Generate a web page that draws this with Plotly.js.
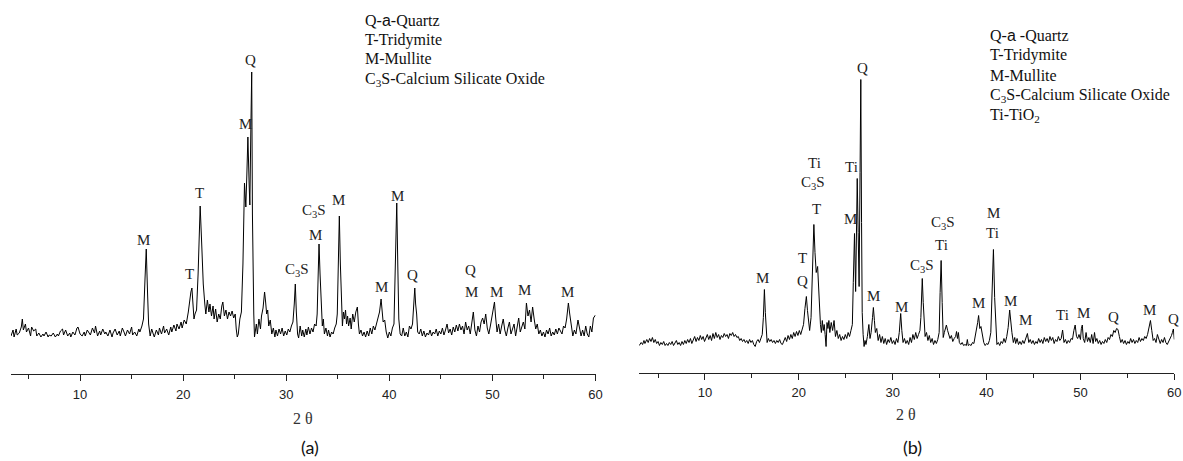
<!DOCTYPE html>
<html>
<head>
<meta charset="utf-8">
<script src="https://cdn.plot.ly/plotly-3.0.1.min.js"></script>
<style>
html,body{margin:0;padding:0;background:#fff;}
#chart{width:1183px;height:461px;}
</style>
</head>
<body>
<div id="chart"></div>
<script>
// ---------- Panel (a) pattern: 2theta and intensity ----------
var twoThetaA = [3.3,3.5,3.6,3.8,3.9,4.1,4.3,4.4,4.5,4.7,4.8,5.0,5.2,5.3,5.5,5.7,5.8,6.0,6.2,6.4,6.5,6.7,6.9,7.0,7.2,7.4,7.6,7.8,7.9,8.1,8.3,8.4,8.6,8.8,9.0,9.1,9.3,9.5,9.7,9.8,10.0,10.2,10.4,10.5,10.7,10.9,11.0,11.2,11.4,11.5,11.7,11.9,12.0,12.2,12.4,12.5,12.7,12.9,13.1,13.2,13.4,13.6,13.8,13.9,14.1,14.3,14.4,14.6,14.8,15.0,15.1,15.3,15.5,15.7,15.8,16.0,16.15,16.3,16.42,16.55,16.65,16.8,16.95,17.1,17.2,17.4,17.6,17.7,17.9,18.1,18.2,18.4,18.6,18.8,18.9,19.1,19.3,19.4,19.6,19.8,19.9,20.1,20.3,20.5,20.65,20.75,20.85,20.95,21.05,21.15,21.3,21.45,21.65,21.8,21.95,22.1,22.2,22.35,22.5,22.6,22.75,22.9,23.0,23.15,23.3,23.45,23.6,23.75,23.85,24.0,24.15,24.3,24.45,24.6,24.75,24.9,25.05,25.15,25.25,25.35,25.5,25.65,25.8,25.95,26.08,26.18,26.28,26.4,26.47,26.56,26.65,26.72,26.78,26.85,26.92,27.0,27.1,27.2,27.35,27.5,27.6,27.75,27.9,28.0,28.1,28.2,28.3,28.45,28.6,28.75,28.9,29.0,29.15,29.3,29.45,29.6,29.75,29.9,30.05,30.2,30.35,30.5,30.65,30.78,30.88,30.98,31.1,31.2,31.35,31.5,31.6,31.75,31.9,32.0,32.15,32.3,32.45,32.6,32.75,32.9,33.0,33.1,33.18,33.28,33.38,33.5,33.6,33.7,33.85,34.0,34.1,34.25,34.4,34.55,34.7,34.85,34.95,35.05,35.15,35.25,35.35,35.45,35.55,35.65,35.75,35.85,35.95,36.05,36.2,36.3,36.45,36.6,36.75,36.9,37.0,37.1,37.25,37.4,37.55,37.7,37.85,38.0,38.15,38.3,38.45,38.6,38.75,38.9,39.05,39.2,39.3,39.4,39.55,39.7,39.85,40.0,40.15,40.3,40.45,40.6,40.72,40.82,40.92,41.05,41.2,41.35,41.5,41.65,41.8,41.95,42.1,42.25,42.4,42.47,42.55,42.65,42.75,42.9,43.05,43.2,43.35,43.5,43.65,43.8,43.95,44.1,44.25,44.4,44.55,44.7,44.85,45.0,45.15,45.3,45.45,45.6,45.75,45.9,46.05,46.2,46.35,46.5,46.65,46.8,46.95,47.1,47.25,47.4,47.55,47.7,47.85,48.0,48.15,48.3,48.45,48.6,48.75,48.9,49.05,49.2,49.35,49.5,49.65,49.8,49.95,50.1,50.2,50.3,50.45,50.6,50.75,50.9,51.05,51.2,51.35,51.5,51.65,51.8,51.95,52.1,52.25,52.4,52.55,52.7,52.85,53.0,53.15,53.3,53.45,53.6,53.75,53.9,54.05,54.2,54.35,54.5,54.65,54.8,54.95,55.1,55.25,55.4,55.55,55.7,55.85,56.0,56.15,56.3,56.45,56.6,56.75,56.9,57.05,57.2,57.37,57.5,57.65,57.8,57.95,58.1,58.3,58.45,58.6,58.75,58.9,59.05,59.2,59.35,59.5,59.65,59.8,60.0];
var intensityA = [38,44,37,45,39,41,47,55,44,50,42,46,38,47,43,45,38,41,37,40,38,42,37,39,38,41,37,40,38,43,45,39,44,38,41,37,42,39,46,47,40,38,42,38,44,40,39,46,41,48,38,43,39,45,40,42,38,44,37,41,45,39,43,38,46,41,38,44,40,47,39,42,38,45,42,48,55,95,125,80,50,38,45,40,37,44,39,46,40,48,41,45,39,47,42,49,43,50,45,52,46,54,50,62,78,82,86,70,55,60,64,100,168,130,90,70,60,74,62,70,58,68,55,65,52,60,55,68,72,58,64,55,62,58,63,56,60,45,37,40,55,62,110,191,167,200,237,190,169,240,302,160,89,60,37,42,50,40,55,45,58,66,82,72,60,64,48,54,40,46,37,44,38,45,40,46,38,43,39,45,42,48,52,70,90,62,40,36,48,38,44,37,45,39,47,40,46,42,50,48,60,100,130,100,65,48,55,40,46,38,44,37,42,40,46,50,60,110,158,110,65,48,62,55,64,50,58,48,56,45,60,52,62,67,50,40,44,38,42,37,43,38,46,40,48,44,50,55,62,75,60,52,54,42,36,42,38,46,50,110,171,110,55,40,38,46,38,42,37,48,45,50,72,86,70,60,42,40,45,38,43,37,41,39,44,38,42,40,45,38,43,40,46,39,44,50,41,45,39,47,42,49,43,50,44,48,40,52,44,48,40,50,62,44,38,48,42,52,56,50,60,46,40,48,56,66,72,58,42,50,40,48,55,44,38,46,52,40,44,50,38,46,56,42,48,52,45,71,58,64,52,67,55,45,50,40,44,38,42,37,44,40,46,38,42,39,45,40,46,43,40,48,46,55,71,60,46,38,44,40,54,45,38,44,38,48,40,37,48,42,56,59];

// ---------- Panel (b) pattern ----------
var twoThetaB = [3.0,3.2,3.35,3.5,3.6,3.8,3.95,4.1,4.25,4.4,4.55,4.7,4.85,5.0,5.15,5.3,5.45,5.6,5.75,5.9,6.05,6.2,6.35,6.5,6.65,6.8,6.95,7.1,7.25,7.4,7.55,7.7,7.85,8.0,8.15,8.3,8.45,8.6,8.75,8.9,9.05,9.2,9.35,9.5,9.65,9.8,9.95,10.1,10.25,10.4,10.55,10.7,10.85,11.0,11.15,11.3,11.45,11.6,11.75,11.9,12.05,12.2,12.35,12.5,12.65,12.8,12.95,13.1,13.25,13.4,13.55,13.7,13.85,14.0,14.15,14.3,14.45,14.6,14.75,14.9,15.05,15.2,15.35,15.5,15.65,15.8,15.95,16.1,16.22,16.33,16.43,16.52,16.62,16.75,16.9,17.05,17.2,17.35,17.5,17.65,17.8,17.95,18.1,18.25,18.4,18.55,18.7,18.85,19.0,19.15,19.3,19.45,19.6,19.75,19.9,20.05,20.2,20.35,20.5,20.65,20.8,20.92,21.05,21.15,21.3,21.45,21.6,21.72,21.85,22.0,22.1,22.2,22.3,22.4,22.5,22.6,22.7,22.8,22.9,23.0,23.1,23.2,23.3,23.45,23.6,23.75,23.9,24.05,24.2,24.35,24.5,24.65,24.8,24.95,25.1,25.25,25.4,25.55,25.7,25.8,25.93,26.05,26.13,26.22,26.32,26.42,26.52,26.6,26.68,26.75,26.85,26.95,27.05,27.15,27.3,27.46,27.58,27.7,27.85,27.94,28.05,28.15,28.3,28.45,28.6,28.75,28.9,29.05,29.2,29.35,29.5,29.65,29.8,29.95,30.1,30.25,30.4,30.55,30.7,30.85,30.97,31.1,31.25,31.4,31.55,31.7,31.85,32.0,32.15,32.3,32.45,32.6,32.75,32.9,33.0,33.08,33.15,33.25,33.35,33.45,33.6,33.75,33.9,34.05,34.2,34.35,34.5,34.65,34.8,34.95,35.05,35.16,35.27,35.38,35.5,35.62,35.72,35.85,35.95,36.1,36.25,36.4,36.55,36.7,36.8,36.9,37.0,37.1,37.25,37.4,37.55,37.7,37.85,37.95,38.05,38.2,38.35,38.5,38.65,38.8,38.95,39.05,39.15,39.28,39.4,39.55,39.7,39.85,40.0,40.15,40.3,40.45,40.58,40.73,40.86,40.98,41.1,41.25,41.4,41.55,41.7,41.85,42.0,42.15,42.3,42.46,42.58,42.7,42.85,43.0,43.1,43.25,43.4,43.55,43.7,43.85,44.0,44.2,44.35,44.5,44.65,44.8,44.95,45.1,45.25,45.4,45.55,45.7,45.85,46.0,46.15,46.3,46.45,46.6,46.75,46.9,47.05,47.2,47.35,47.5,47.65,47.8,47.95,48.1,48.25,48.4,48.55,48.7,48.85,49.0,49.15,49.3,49.44,49.58,49.7,49.85,50.0,50.1,50.2,50.3,50.45,50.6,50.75,50.9,51.05,51.2,51.35,51.5,51.62,51.75,51.9,52.05,52.2,52.35,52.5,52.65,52.8,52.95,53.1,53.25,53.4,53.55,53.7,53.85,54.0,54.15,54.3,54.45,54.6,54.75,54.9,55.05,55.2,55.35,55.5,55.65,55.8,55.95,56.1,56.25,56.4,56.55,56.7,56.85,57.0,57.15,57.3,57.46,57.6,57.75,57.9,58.05,58.2,58.35,58.5,58.65,58.8,58.95,59.1,59.25,59.4,59.55,59.7,59.8,59.9,60.0];
var intensityB = [27,30,28,32,29,33,30,34,31,35,30,33,29,31,27,30,28,31,27,29,27,30,28,31,27,29,32,28,30,27,31,28,32,29,33,30,34,29,33,36,31,35,32,37,33,36,31,35,38,33,37,32,39,34,40,35,38,33,37,35,39,36,38,34,39,37,40,36,38,35,36,32,34,31,33,30,32,29,33,30,32,28,26,31,33,30,35,38,55,83,60,38,30,34,31,33,30,32,29,32,30,33,29,28,32,35,31,37,33,38,34,40,36,41,37,42,38,44,48,64,76,62,45,42,55,95,148,120,100,106,80,55,48,40,52,42,48,38,26,50,44,52,40,50,42,52,36,42,34,38,32,36,33,38,34,40,36,42,48,90,139,81,130,194,140,86,200,293,150,60,38,26,32,28,36,48,34,40,55,65,52,40,44,32,38,30,36,29,34,28,33,30,35,29,32,28,34,30,40,59,42,30,34,29,32,28,35,30,38,33,40,34,38,42,55,80,94,70,45,36,40,32,37,30,34,28,32,29,33,40,80,112,70,35,40,45,47.5,42,38,34,37,31,34,36,41,34,40,30,28,30,27,28,27,33,27,28,27,30,29,36,42,50,57,44,46,36,30,27,29,28,32,40,80,123,75,40,28,30,27,31,29,34,30,36,45,62.5,46,40,30,35,29,34,28,31,28,32,29,35,39,30,33,29,32,28,31,29,34,30,33,29,35,31,34,30,36,32,35,29,33,31,36,32,34,42.5,30,33,29,32,30,34,33,42,47.5,36,34,38,33,44,47.5,34,30,40,31,35,30,38,29,40,31,34,29,32,28,31,29,33,30,35,33,38,36,42,40,44,43,36,30,33,29,32,28,31,29,34,30,33,29,32,30,35,31,34,32,36,34,38,45,52,42,32,34,30,38,32,29,33,30,35,30,28,31,33,37,40,43.5,33];

// ---------- Peak labels (text, 2theta, intensity level) ----------
var labelTextA = ['Q','M','T','C<sub>3</sub>S','M','M','M','C<sub>3</sub>S','M','T','M','Q','Q','M','M','M','M'];
var labelXA    = [26.56,26.0,21.6,32.7,35.09,40.8,32.8,31.0,16.2,20.57,39.26,42.2,47.83,47.99,50.42,53.07,57.33];
var labelYA    = [314,250,181,163,174,178,139,104,134,100,87,99,104,82,82,84,82];

var labelTextB = ['M','T','Q','T','C<sub>3</sub>S','Ti','Ti','M','Q','M','M','C<sub>3</sub>S','C<sub>3</sub>S','Ti','M','M','Ti','M','M','Ti','M','Q','M','Q'];
var labelXB    = [16.1,20.41,20.44,21.83,21.47,21.72,25.63,25.52,26.73,28.0,30.99,33.09,35.36,35.22,39.16,40.79,40.65,42.6,44.17,48.12,50.34,53.55,57.38,59.92];
var labelYB    = [95,114.5,91.5,163.5,189.5,210,206,153.5,304.5,77,66,106.5,150,127.5,70,159.5,140,72,52.5,57.5,60,55.5,62.5,53.5];

// ---------- Phase key text ----------
var keyA = ['Q-<span style="font-family:Liberation Sans,Arial">a</span>-Quartz','T-Tridymite','M-Mullite','C<sub>3</sub>S-Calcium Silicate Oxide'];
var keyB = ['Q-<span style="font-family:Liberation Sans,Arial">a</span> -Quartz','T-Tridymite','M-Mullite','C<sub>3</sub>S-Calcium Silicate Oxide','Ti-TiO<sub>2</sub>'];

var W = 1183, H = 461;
function px(x){return x/W;}
function py(y){return 1 - y/H;}

var serif = 'Liberation Serif, Times New Roman, serif';
var sans = 'Liberation Sans, Arial, sans-serif';

var traces = [
  {x: twoThetaA, y: intensityA, type:'scatter', mode:'lines', xaxis:'x', yaxis:'y',
   line:{color:'#000', width:1}, hoverinfo:'skip'},
  {x: twoThetaB, y: intensityB, type:'scatter', mode:'lines', xaxis:'x2', yaxis:'y2',
   line:{color:'#000', width:1}, hoverinfo:'skip'}
];

var ann = [];
labelTextA.forEach(function(t,i){
  ann.push({text:t, x:labelXA[i], y:labelYA[i], xref:'x', yref:'y', showarrow:false,
    xanchor:'center', yanchor:'middle', font:{family:serif, size:15, color:'#222'}});
});
labelTextB.forEach(function(t,i){
  ann.push({text:t, x:labelXB[i], y:labelYB[i], xref:'x2', yref:'y2', showarrow:false,
    xanchor:'center', yanchor:'middle', font:{family:serif, size:15, color:'#222'}});
});
var keyAy = [20,39.5,59,79];
keyA.forEach(function(t,i){
  ann.push({text:t, x:px(363), y:py(keyAy[i]), xref:'paper', yref:'paper', showarrow:false,
    xanchor:'left', yanchor:'middle', font:{family:serif, size:16, color:'#111'}});
});
var keyBy = [36,55.5,75,95,115];
keyB.forEach(function(t,i){
  ann.push({text:t, x:px(988), y:py(keyBy[i]), xref:'paper', yref:'paper', showarrow:false,
    xanchor:'left', yanchor:'middle', font:{family:serif, size:16, color:'#111'}});
});
// axis titles and panel captions
ann.push({text:'2 θ', x:px(303), y:py(418), xref:'paper', yref:'paper', showarrow:false,
  xanchor:'center', yanchor:'middle', font:{family:serif, size:16, color:'#333'}});
ann.push({text:'2 θ', x:px(906), y:py(414), xref:'paper', yref:'paper', showarrow:false,
  xanchor:'center', yanchor:'middle', font:{family:serif, size:16, color:'#333'}});
ann.push({text:'(a)', x:px(310), y:py(447), xref:'paper', yref:'paper', showarrow:false,
  xanchor:'center', yanchor:'middle', font:{family:'Lato, Liberation Sans, sans-serif', size:18, color:'#111'}});
ann.push({text:'(b)', x:px(912), y:py(447), xref:'paper', yref:'paper', showarrow:false,
  xanchor:'center', yanchor:'middle', font:{family:'Lato, Liberation Sans, sans-serif', size:18, color:'#111'}});

function xAxis(domain, range, anchor){
  return {domain:domain, range:range, anchor:anchor, showline:true, linecolor:'#222', linewidth:1,
    ticks:'outside', ticklen:6, tickwidth:1, tickcolor:'#222', tick0:0, dtick:10,
    minor:{dtick:5, tick0:0, ticks:'outside', ticklen:4, tickwidth:1, tickcolor:'#222', showgrid:false},
    showgrid:false, zeroline:false, fixedrange:true, ticklabelstandoff:2,
    tickfont:{family:sans, size:13, color:'#222'}};
}

var layout = {
  width:W, height:H, margin:{l:0,r:0,t:0,b:0},
  paper_bgcolor:'#fff', plot_bgcolor:'#fff', showlegend:false,
  xaxis: xAxis([px(11), px(595.5)], [3.3, 60], 'y'),
  yaxis: {domain:[py(374), py(44)], range:[0,330], visible:false, fixedrange:true},
  xaxis2: xAxis([px(639), px(1174.3)], [2.97, 60], 'y2'),
  yaxis2: {domain:[py(372.5), py(42.5)], range:[0,330], visible:false, fixedrange:true},
  annotations: ann
};

Plotly.newPlot('chart', traces, layout, {staticPlot:true, displayModeBar:false});
</script>
</body>
</html>
